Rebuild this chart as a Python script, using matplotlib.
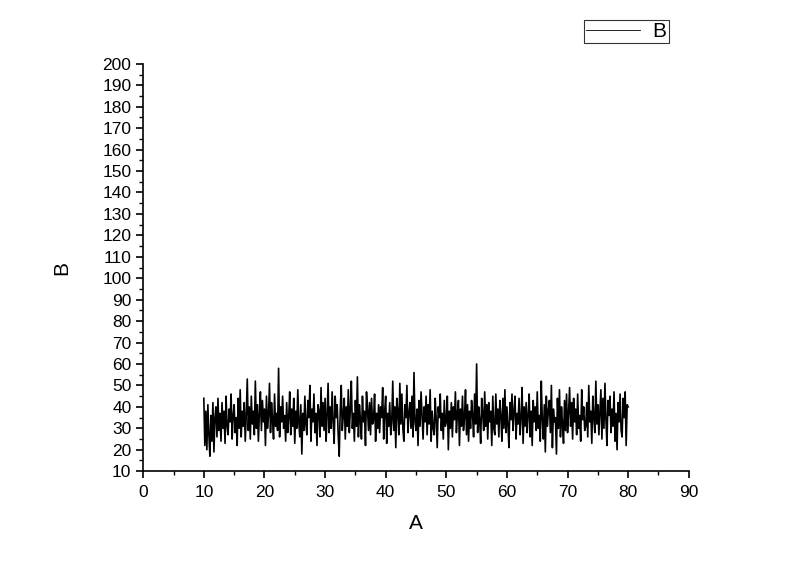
import numpy as np
import matplotlib.pyplot as plt
from matplotlib.ticker import MultipleLocator

# ---- data (6 samples per unit of A) ----
A_START = 10
A_END = 80
B_VALUES = [
    44, 22, 38, 20, 41, 27,
    17, 36, 24, 42, 19, 35,
    40, 26, 44, 29, 37, 24,
    42, 30, 38, 23, 45, 31,
    27, 39, 33, 46, 25, 36,
    41, 28, 35, 22, 44, 30,
    48, 26, 38, 31, 42, 24,
    36, 53, 29, 40, 25, 45,
    32, 38, 27, 52, 30, 41,
    24, 37, 47, 29, 43, 33,
    39, 22, 45, 30, 36, 51,
    28, 42, 34, 25, 46, 31,
    37, 29, 58, 26, 40, 33,
    45, 30, 36, 24, 42, 28,
    35, 47, 27, 39, 31, 44,
    23, 38, 30, 48, 33, 26,
    41, 18, 37, 29, 45, 32,
    27, 43, 35, 50, 24, 39,
    33, 46, 28, 37, 22, 41,
    38, 26, 49, 31, 42, 29,
    44, 24, 36, 51, 28, 40,
    30, 47, 33, 23, 45, 35,
    41, 27, 17, 38, 50, 29,
    36, 44, 25, 40, 31, 48,
    28, 39, 52, 30, 37, 24,
    43, 31, 54, 26, 41, 34,
    25, 45, 33, 38, 22, 47,
    39, 29, 42, 27, 44, 32,
    34, 46, 24, 37, 30, 41,
    28, 40, 35, 49, 25, 38,
    45, 23, 37, 31, 42, 27,
    33, 52, 29, 40, 21, 44,
    38, 27, 51, 32, 46, 30,
    24, 41, 35, 50, 28, 37,
    42, 30, 45, 26, 56, 33,
    29, 39, 22, 43, 31, 47,
    36, 25, 40, 33, 45, 27,
    41, 32, 48, 24, 38, 30,
    27, 44, 34, 21, 40, 35,
    46, 29, 37, 25, 43, 31,
    33, 45, 20, 38, 30, 42,
    26, 40, 34, 47, 28, 37,
    43, 22, 39, 31, 45, 29,
    35, 48, 27, 41, 24, 38,
    30, 43, 36, 26, 46, 32,
    60, 28, 40, 34, 23, 44,
    37, 29, 47, 31, 41, 25,
    42, 33, 38, 22, 45, 30,
    27, 46, 32, 39, 26, 43,
    36, 24, 44, 30, 48, 28,
    40, 31, 21, 42, 34, 46,
    29, 38, 45, 25, 37, 32,
    44, 27, 35, 49, 23, 40,
    31, 42, 28, 36, 46, 26,
    38, 22, 43, 33, 40, 29,
    47, 30, 36, 24, 52, 34,
    25, 41, 19, 45, 31, 38,
    43, 28, 50, 21, 39, 33,
    35, 18, 44, 30, 48, 26,
    40, 32, 23, 43, 29, 46,
    28, 37, 49, 31, 42, 25,
    44, 33, 39, 27, 46, 30,
    36, 24, 48, 34, 40, 29,
    31, 42, 26, 50, 33, 38,
    23, 45, 35, 28, 52, 32,
    41, 27, 37, 48, 25, 44,
    30, 51, 34, 22, 43, 36,
    45, 28, 39, 31, 47, 24,
    37, 20, 42, 33, 46, 29,
    26, 44, 35, 47, 22, 41,
    40,
]

b = np.array(B_VALUES, dtype=float)
a = np.linspace(A_START, A_END, len(b))

plt.rcParams['font.family'] = ['Liberation Sans', 'DejaVu Sans']

fig = plt.figure(figsize=(8, 5.65), dpi=100)
ax = fig.add_axes([0.179, 0.166, 0.682, 0.721])

ax.plot(a, b, color='black', linewidth=1.2, label='B')

ax.set_xlim(0, 90)
ax.set_ylim(10, 200)
ax.xaxis.set_major_locator(MultipleLocator(10))
ax.xaxis.set_minor_locator(MultipleLocator(5))
ax.yaxis.set_major_locator(MultipleLocator(10))
ax.yaxis.set_minor_locator(MultipleLocator(5))

ax.spines['top'].set_visible(False)
ax.spines['right'].set_visible(False)
ax.spines['left'].set_linewidth(1.2)
ax.spines['bottom'].set_linewidth(1.2)
ax.tick_params(which='major', direction='out', length=5, width=1.2, labelsize=12.5)
ax.tick_params(axis='x', which='major', pad=5)
ax.tick_params(which='minor', direction='out', length=3, width=1.0)

ax.set_xlabel('A', fontsize=15, labelpad=10)
ax.set_ylabel('B', fontsize=15, labelpad=22)

leg = fig.legend(loc='upper right', bbox_to_anchor=(0.836, 0.965), fontsize=15,
                 frameon=True, fancybox=False, edgecolor='black',
                 handlelength=2.6, borderpad=0.1, handletextpad=0.6,
                 borderaxespad=0.0)
leg.get_frame().set_linewidth(0.8)
leg.get_lines()[0].set_linewidth(0.6)

plt.savefig('out.png', dpi=100)
